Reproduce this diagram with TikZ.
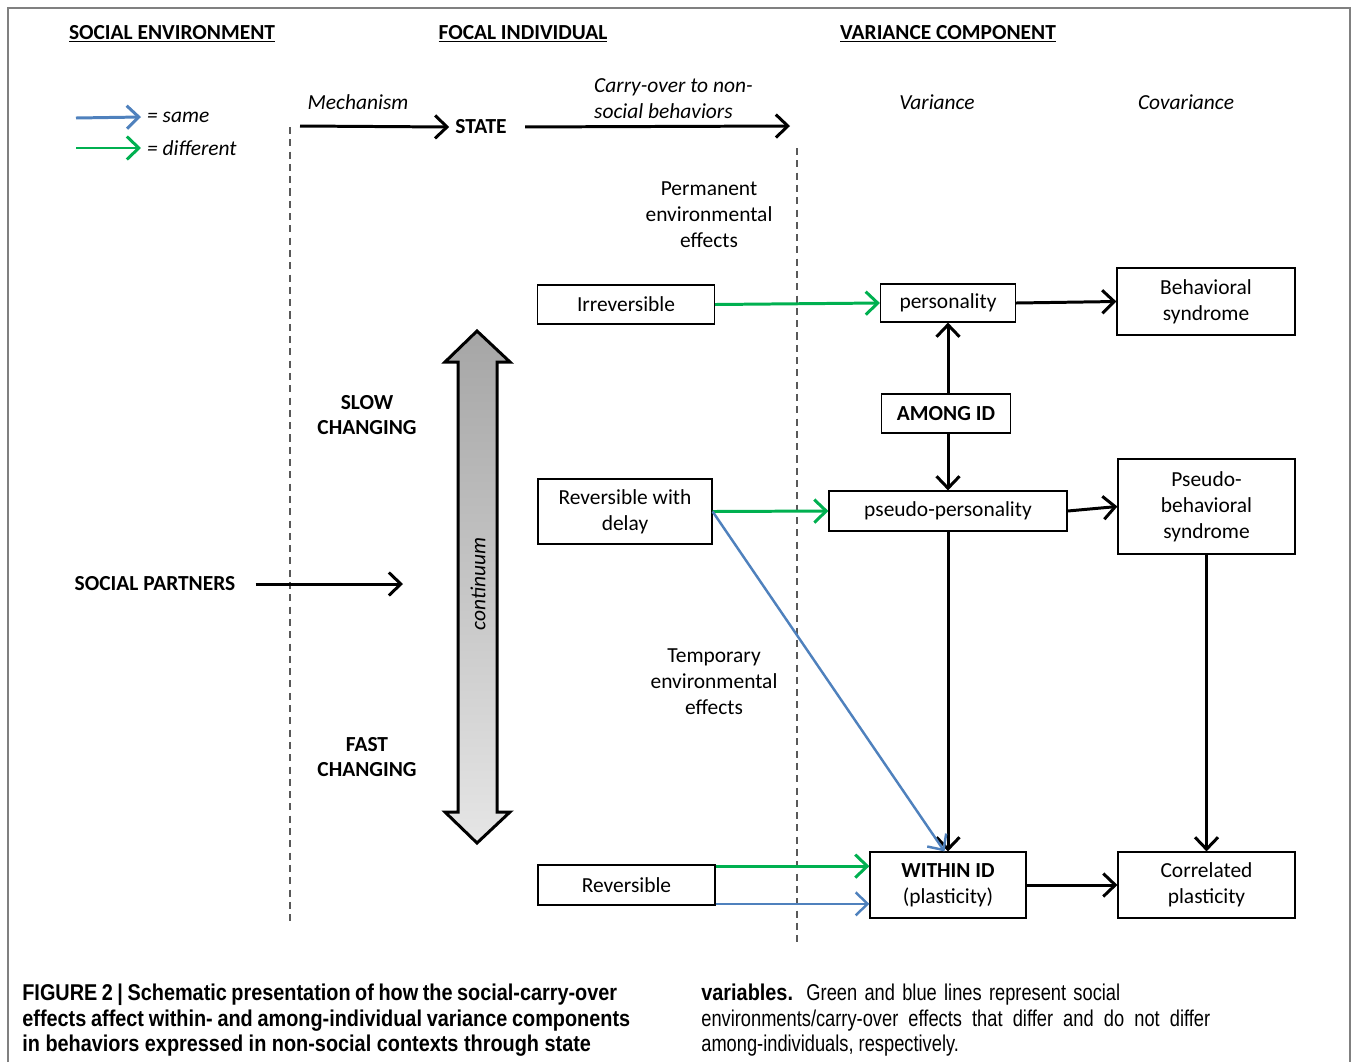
\documentclass[tikz,border=0pt]{standalone}
\usepackage{fontspec}
\setmainfont{Carlito}
\newfontfamily\capfont[FakeStretch=0.80,BoldFeatures={FakeStretch=0.87}]{Liberation Sans}
\usetikzlibrary{arrows.meta}
\definecolor{sameblue}{RGB}{79,129,189}
\definecolor{diffgreen}{RGB}{0,176,80}
\newcommand\mainsize{\fontsize{12.2}{14.7}\selectfont}
\tikzset{
  box/.style={draw,line width=0.7pt,align=center,inner sep=2pt},
  colhead/.style={font=\mainsize\bfseries},
  slanted/.style={font=\mainsize\itshape},
  link/.style={->,line width=1.7pt},
  samelink/.style={->,line width=1.4pt,draw=sameblue},
  difflink/.style={->,line width=1.7pt,draw=diffgreen},
  divider/.style={dash pattern=on 4pt off 3pt,draw=gray!70!black,line width=0.8pt},
  capline/.style={anchor=west,inner sep=0pt,font=\capfont\fontsize{13}{15}\selectfont}
}

\begin{document}
\begin{tikzpicture}[x=0.02cm,y=-0.02cm,font=\mainsize,
    >={Straight Barb[length=2.4mm,width=4.6mm]}]
  \useasboundingbox (0,0) rectangle (1358,1062);
  \draw[gray,line width=0.8pt] (8,1062) -- (8,8) -- (1350,8) -- (1350,1062);

  % column headings
  \node[colhead] (envhead) at (172,34) {\underline{SOCIAL ENVIRONMENT}};
  \node[colhead] (focalhead) at (523,34) {\underline{FOCAL INDIVIDUAL}};
  \node[colhead] (varhead) at (948,34) {\underline{VARIANCE COMPONENT}};

  % legend
  \coordinate (sameTail) at (76,118);
  \coordinate (diffTail) at (76,148);
  \node[slanted,anchor=west] (sameKey) at (141,117) {= same};
  \node[slanted,anchor=west] (diffKey) at (141,148) {= different};
  \draw[link,draw=sameblue] (sameTail) -- (sameKey.west);
  \draw[link,draw=diffgreen] (diffTail) -- (diffKey.west);

  \coordinate (divA1) at (290,127);
  \coordinate (divA2) at (290,925);
  \coordinate (divB1) at (797,148);
  \coordinate (divB2) at (797,945);
  \draw[divider] (divA1) -- (divA2);
  \draw[divider] (divB1) -- (divB2);

  \node[slanted] (mech) at (358,102) {Mechanism};
  \node[colhead] (state) at (481,127) {STATE};
  \node[slanted,align=left,anchor=west] (carry) at (588,99) {Carry-over to non-\\social behaviors};
  \node[slanted] (varlab) at (937,102) {Variance};
  \node[slanted] (covlab) at (1186,102) {Covariance};
  \coordinate (mechTail) at (300,126);
  \coordinate (carryHead) at (790,126);
  \draw[link] (mechTail) -- (state.west);
  \draw[link,shorten <=7pt] (state.east) -- (carryHead);

  \node[align=center] (perm) at (709,215) {Permanent\\environmental\\effects};
  \node[align=center] (temp) at (714,682) {Temporary\\environmental\\effects};

  \node[colhead,align=center] (slow) at (367,415) {SLOW\\CHANGING};
  \node[colhead,align=center] (fast) at (367,757) {FAST\\CHANGING};
  \node[colhead] (partners) at (155,584) {SOCIAL PARTNERS};
  \coordinate (partnersHead) at (403,584);
  \draw[link,shorten <=8pt] (partners.east) -- (partnersHead);

  % continuum arrow
  \shadedraw[top color=gray!70,bottom color=gray!20,draw=black,line width=1.7pt]
    (477,331) -- (510,362) -- (497,362) -- (497,812) -- (510,812) -- (477,843)
    -- (445,812) -- (458,812) -- (458,362) -- (445,362) -- cycle;
  \node[slanted,rotate=90] (cont) at (478,584) {continuum};

  % boxes
  \node[box,minimum width=3.54cm,minimum height=0.78cm] (irr) at (626,304.5) {Irreversible};
  \node[box,minimum width=2.7cm,minimum height=0.76cm] (pers) at (948,303) {personality};
  \node[box,minimum width=3.56cm,minimum height=1.34cm] (bsyn) at (1206,301.5) {Behavioral\\syndrome};
  \node[box,colhead,minimum width=2.58cm,minimum height=0.78cm] (among) at (946,413.5) {AMONG ID};
  \node[box,minimum width=3.48cm,minimum height=1.3cm] (delay) at (625,511.5) {Reversible with\\delay};
  \node[box,minimum width=4.76cm,minimum height=0.8cm] (pseudo) at (948,511) {pseudo-personality};
  \node[box,minimum width=3.54cm,minimum height=1.9cm] (psyn) at (1206.5,506.5) {Pseudo-\\behavioral\\syndrome};
  \node[box,minimum width=3.54cm,minimum height=0.8cm] (rev) at (626.5,885) {Reversible};
  \node[box,minimum width=3.12cm,minimum height=1.32cm] (within) at (948,885) {\textbf{WITHIN ID}\\(plasticity)};
  \node[box,minimum width=3.54cm,minimum height=1.32cm] (corr) at (1206.5,885) {Correlated\\plasticity};

  % connectors
  \draw[difflink] (irr.east) -- (pers.west);
  \draw[link] (pers.east) -- (bsyn.west);
  \draw[link] (pers.south |- among.north) -- (pers.south);
  \draw[link] (pers.south |- among.south) -- (pseudo.north);
  \draw[difflink] (delay.east) -- (pseudo.west);
  \draw[link] (pseudo.east) -- (psyn.west);
  \draw[link] (pseudo.south) -- (within.north);
  \draw[samelink] (delay.east) -- ([xshift=-2pt]within.north);
  \draw[link] (psyn.south) -- (corr.north);
  \draw[difflink] ([yshift=-1pt]rev.north east) -- ([yshift=-1pt]rev.north east -| within.west);
  \draw[samelink] ([yshift=1pt]rev.south east) -- ([yshift=1pt]rev.south east -| within.west);
  \draw[link] (within.east) -- (corr.west);

  % caption
  \node[capline] (capA) at (22,995) {\makebox[11.9cm][s]{\bfseries FIGURE 2 | Schematic presentation of how the social-carry-over}};
  \node[capline] (capB) at (22,1021) {\makebox[12.16cm][s]{\bfseries effects affect within- and among-individual variance components}};
  \node[capline] (capC) at (22,1046) {\bfseries in behaviors expressed in non-social contexts through state};
  \node[capline] (capD) at (701,995) {\makebox[8.38cm][s]{\textbf{variables.} Green and blue lines represent social}};
  \node[capline] (capE) at (701,1021) {\makebox[10.18cm][s]{environments/carry-over effects that differ and do not differ}};
  \node[capline] (capF) at (701,1046) {among-individuals, respectively.};
\end{tikzpicture}
\end{document}
